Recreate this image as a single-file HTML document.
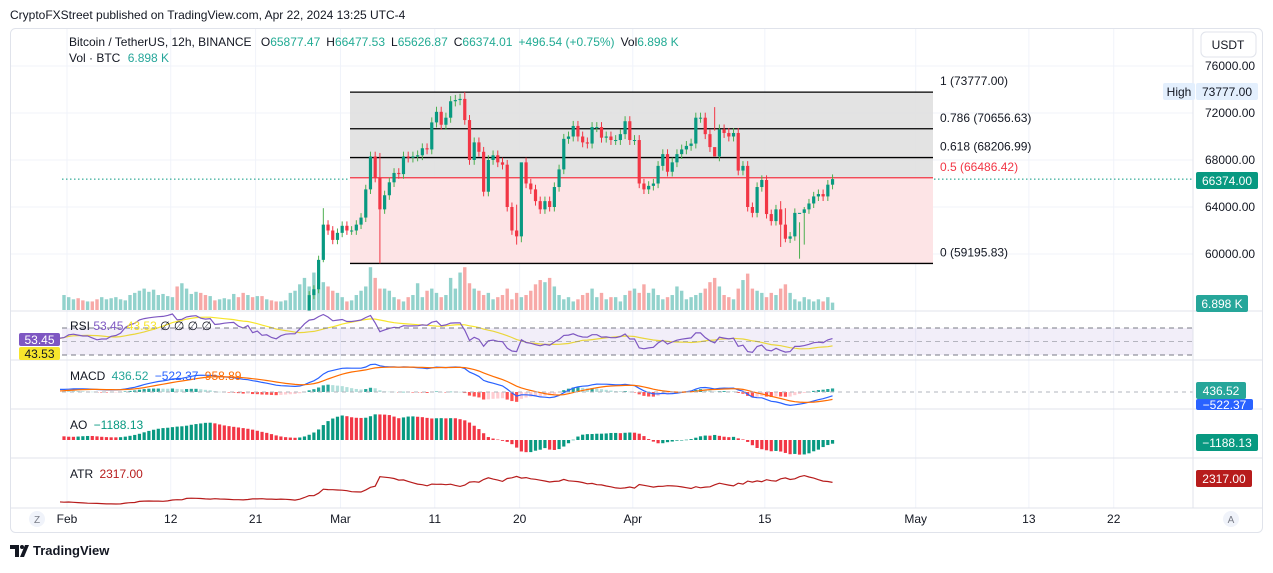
<!DOCTYPE html>
<html><head><meta charset="utf-8">
<style>
body{margin:0;background:#fff;width:1273px;height:568px;overflow:hidden;font-family:"Liberation Sans",sans-serif;}
svg text{font-family:"Liberation Sans",sans-serif;}
</style></head>
<body>
<svg id="c" width="1273" height="568" viewBox="0 0 1273 568" xmlns="http://www.w3.org/2000/svg">
<text x="10" y="19" font-size="12" fill="#131722">CryptoFXStreet published on TradingView.com, Apr 22, 2024 13:25 UTC-4</text>
<rect x="10.5" y="28.5" width="1252" height="504" rx="5" fill="#fff" stroke="#e0e3eb"/>
<g id="grid"></g>
<g id="fib"></g>
<g id="vol"></g>
<g id="candles"></g>
<g id="panes"></g>
<g id="axis"></g>
<text x="69" y="46" font-size="12" fill="#131722">Bitcoin / TetherUS, 12h, BINANCE <tspan dx="6">O</tspan><tspan fill="#22ab94">65877.47</tspan><tspan dx="6">H</tspan><tspan fill="#22ab94">66477.53</tspan><tspan dx="6">L</tspan><tspan fill="#22ab94">65626.87</tspan><tspan dx="6">C</tspan><tspan fill="#22ab94">66374.01</tspan><tspan dx="6" fill="#22ab94">+496.54 (+0.75%)</tspan><tspan dx="6">Vol</tspan><tspan fill="#22ab94">6.898 K</tspan></text>
<text x="69" y="62" font-size="12" fill="#131722">Vol · BTC <tspan dx="4" fill="#26a69a">6.898 K</tspan></text>
<rect x="1201" y="32" width="55" height="25" rx="5" fill="#fff" stroke="#e0e3eb"/>
<text x="1228" y="49" font-size="12" text-anchor="middle" fill="#131722">USDT</text>
<text x="70" y="330" font-size="12" fill="#131722">RSI <tspan fill="#7e57c2">53.45</tspan> <tspan fill="#f7e52c">43.53</tspan> <tspan>∅ ∅ ∅ ∅</tspan></text>
<text x="70" y="380" font-size="12" fill="#131722">MACD <tspan dx="3" fill="#26a69a">436.52</tspan> <tspan dx="3" fill="#2962ff">−522.37</tspan> <tspan dx="3" fill="#ff6d00">958.89</tspan></text>
<text x="70" y="429" font-size="12" fill="#131722">AO <tspan dx="3" fill="#089981">−1188.13</tspan></text>
<text x="70" y="478" font-size="12" fill="#131722">ATR <tspan dx="3" fill="#b71c1c">2317.00</tspan></text>
<g><path d="M10 545h9v12h-4v-8h-5z M20 557l5-12h4l-5 12z" fill="#131722"/><circle cx="22" cy="547" r="2" fill="#131722"/><text x="33" y="555" font-size="13" font-weight="bold" fill="#131722">TradingView</text></g>
</svg>
<script>
const preCloses=[43.0,42.8,42.8,42.9,42.5,41.7,42.3,42.5,43.1,43.2,42.8,42.7,42.0,41.3,41.0,41.6,41.7,41.6,41.6,41.6,40.5,39.5,39.0,39.8,40.0,40.0,39.8,39.9,41.2,41.8,42.0,42.1,42.3,42.0,42.8,43.3,43.5,43.0,42.5,42.5];
const closes=[42.6,43.1,43.2,43.1,43.0,43.0,42.8,42.6,42.7,42.7,43.0,43.1,43.4,44.3,44.9,45.3,46.5,47.1,47.5,47.8,48.1,48.3,48.9,50.0,49.4,49.7,51.2,51.8,52.2,51.9,51.8,52.1,51.4,51.6,51.9,52.1,52.2,51.8,51.6,52.3,51.4,51.8,51.2,51.3,50.9,50.7,51.3,51.6,51.7,51.7,52.8,54.5,56.5,57.0,59.5,62.5,62.0,61.2,
61.8,62.4,62.0,62.0,62.5,63.1,65.5,68.3,66.5,63.8,65.0,66.1,66.9,66.8,68.3,68.2,68.3,68.4,69.0,68.9,71.2,72.1,71.0,71.6,73.0,73.1,73.2,71.4,68.0,69.5,68.7,65.3,68.0,68.4,67.8,67.6,64.0,62.0,61.5,67.8,66.0,65.5,64.5,63.8,64.5,64.0,65.7,67.2,69.8,70.0,70.9,70.0,69.5,69.4,70.8,70.8,69.9,70.0,69.7,69.7,70.2,71.3,
69.7,69.7,66.0,65.5,65.8,66.0,67.5,68.5,67.0,67.8,68.5,68.9,69.2,69.4,71.6,71.6,70.2,69.1,68.3,70.6,70.3,70.0,70.3,67.1,67.5,64.0,63.5,65.7,66.3,63.4,62.8,63.8,62.5,61.3,61.5,63.5,63.5,63.8,64.3,64.9,65.1,64.9,65.9,66.374];
const wickOverrides=[[55,63.9,59.3],[67,68.6,59.2],[85,73.78,71.0],[96,64.2,60.8],[97,62.0,61.0],[138,72.5,70.5],[152,64.5,60.6],[153,63.9,61.0],[156,62.7,59.6],[157,64.0,60.8]];
const volumes=[14,12,10,11,9,8,8,10,12,10,11,12,10,9,14,16,18,20,17,19,14,15,13,12,22,25,20,15,17,16,14,13,9,10,11,10,15,12,16,14,12,13,13,10,9,8,8,9,16,18,24,30,22,35,20,26,22,18,
16,12,8,9,14,18,22,40,30,20,20,18,12,10,8,12,14,25,12,18,20,16,12,14,30,20,35,40,25,20,18,14,16,10,12,14,20,10,16,12,14,18,24,28,26,30,22,14,10,12,8,10,14,16,20,12,16,10,12,12,8,14,
18,20,16,24,16,20,14,10,12,14,22,18,10,12,14,16,20,26,30,22,14,12,10,20,28,34,20,18,16,12,16,14,20,24,16,10,8,12,10,8,10,8,12,6.9];
const priceTicks=[76000,72000,68000,64000,60000];
const fibLevels=[1,0.786,0.618,0.5,0];
const fibHigh=73777, fibLow=59195.83;
const timeLabels=["Feb","12","21","Mar","11","20","Apr","15","May","13","22"];
const timeDays=[0,11,20,29,39,48,60,74,90,102,111];

const NS="http://www.w3.org/2000/svg";
function mk(t,a,p){const e=document.createElementNS(NS,t);for(const k in a)e.setAttribute(k,a[k]);p.appendChild(e);return e;}
const X=i=>64+i*4.715;
const XD=d=>67+d*9.43;
const PY=p=>66+(76000-p)*0.01175;
const P=preCloses.length;
const ALL=preCloses.concat(closes).map(v=>v*1000);
const NA=ALL.length;
const OA=ALL.map((v,i)=>i==0?v:ALL[i-1]);
const HA=ALL.map((v,i)=>Math.max(v,OA[i])*1.006), LA=ALL.map((v,i)=>Math.min(v,OA[i])*0.994);
wickOverrides.forEach(w=>{const k=w[0]+P;if(k<NA){HA[k]=w[1]*1000;LA[k]=w[2]*1000;}});
const N=closes.length;
const C=ALL.slice(P),O=OA.slice(P),H=HA.slice(P),L=LA.slice(P);
const XA=k=>X(k-P);

const grid=document.getElementById('grid');
timeDays.forEach(d=>{const l=mk('line',{x1:XD(d),x2:XD(d),y1:29,y2:508,stroke:'#f0f3fa'},grid);});
priceTicks.forEach(p=>{const l=mk('line',{x1:11,x2:1193,y1:PY(p),y2:PY(p),stroke:'#f0f3fa'},grid);});

const fib=document.getElementById('fib');
const fx1=350,fx2=933;
const fy=l=>PY(fibLow+(fibHigh-fibLow)*l);
mk('rect',{x:fx1,y:fy(1),width:fx2-fx1,height:fy(0.5)-fy(1),fill:'#e0e0e0',opacity:0.9},fib);
mk('rect',{x:fx1,y:fy(0.5),width:fx2-fx1,height:fy(0)-fy(0.5),fill:'#fde4e6'},fib);
fibLevels.forEach(l=>{const red=l==0.5;const y=fy(l);
 const ln=mk('line',{x1:fx1,x2:fx2,y1:y,y2:y,stroke:red?'#f23645':'#000','stroke-width':1.3},fib);
 
 const t=mk('text',{x:940,y:y-7,'font-size':12,fill:red?'#f23645':'#131722'},fib);
 t.textContent=l+' ('+(fibLow+(fibHigh-fibLow)*l).toFixed(2)+')';
 });

const cp=mk('line',{x1:62,x2:1193,y1:PY(C[N-1]),y2:PY(C[N-1]),stroke:'#089981','stroke-dasharray':'1.5 2.5'},grid);


const defs=mk('defs',{},document.getElementById('c'));
const cl=mk('clipPath',{id:'pc'},defs);mk('rect',{x:11,y:29,width:1182,height:282},cl);
const cl2=mk('clipPath',{id:'ic'},defs);mk('rect',{x:60,y:311,width:1133,height:197},cl2);
const vg=document.getElementById('vol');vg.setAttribute('clip-path','url(#pc)');
volumes.forEach((v,i)=>{const up=C[i]>=O[i];const h=v*1.07;
 const r=mk('rect',{x:X(i)-1.7,y:310-h,width:3.4,height:h,fill:up?'rgba(38,166,154,0.5)':'rgba(239,83,80,0.5)'},vg);
 });
const cg=document.getElementById('candles');cg.setAttribute('clip-path','url(#pc)');
for(let i=0;i<N;i++){const up=C[i]>=O[i];const col=up?'#089981':'#f23645';
 const w=mk('line',{x1:X(i),x2:X(i),y1:PY(H[i]),y2:PY(L[i]),stroke:up?'#4caf50':col,'stroke-width':1},cg);
 
 const t=PY(Math.max(C[i],O[i])),b=PY(Math.min(C[i],O[i]));
 const r=mk('rect',{x:X(i)-1.6,y:t,width:3.2,height:Math.max(1,b-t),fill:col},cg);
 }

function ema(a,n){const k=2/(n+1);const o=[];a.forEach((v,i)=>o.push(i==0?v:v*k+o[i-1]*(1-k)));return o;}
function sma(a,n){return a.map((v,i)=>{if(i<n-1)return null;let s=0;for(let j=i-n+1;j<=i;j++)s+=a[j];return s/n;});}
const rsi=[null];let ag=0,al=0;
for(let i=1;i<NA;i++){const d=ALL[i]-ALL[i-1];const g=Math.max(d,0),l=Math.max(-d,0);
 if(i<=14){ag+=g/14;al+=l/14;}else{ag=(ag*13+g)/14;al=(al*13+l)/14;}
 rsi[i]=i>=14?(al==0?100:100-100/(1+ag/al)):null;}
const rsiMa=sma(rsi.map(v=>v==null?50:v),14);
const RY=v=>341.5-(v-50)*0.675;
const pg=document.getElementById('panes');
const ig=mk('g',{'clip-path':'url(#ic)'},pg);
const band=mk('rect',{x:62,y:RY(70),width:1131,height:RY(30)-RY(70),fill:'#7e57c2','fill-opacity':0.1},pg);

[70,50,30].forEach(v=>{const l=mk('line',{x1:62,x2:1193,y1:RY(v),y2:RY(v),stroke:'#787b86','stroke-dasharray':'5 4','stroke-opacity':v==50?0.5:1},pg);});
function path(arr,yf,col,name){let d='';for(let k=P-1;k<arr.length;k++){if(arr[k]==null)continue;d+=(d?'L':'M')+XA(k).toFixed(1)+' '+yf(arr[k]).toFixed(1);}
 const p=mk('path',{d:d,fill:'none',stroke:col,'stroke-width':1.2},ig);return p;}
path(rsiMa,RY,'#f7e52c','rsi-ma-line');
path(rsi,RY,'#7e57c2','rsi-line');
const e12=ema(ALL,12),e26=ema(ALL,26);const macd=ALL.map((v,i)=>e12[i]-e26[i]);const sig=ema(macd,9);
const MY=v=>392-v*0.0075;
const z=mk('line',{x1:62,x2:1193,y1:MY(0),y2:MY(0),stroke:'#b2b5be','stroke-dasharray':'4 4'},pg);
for(let k=P;k<NA;k++){const h=macd[k]-sig[k],hp=macd[k-1]-sig[k-1];
 const col=h>=0?(h>=hp?'#26a69a':'#b2dfdb'):(h<hp?'#ff5252':'#ffcdd2');
 const y1=MY(Math.max(h,0)),y2=MY(Math.min(h,0));
 const r=mk('rect',{x:XA(k)-1.6,y:y1,width:3.2,height:Math.max(0.5,y2-y1),fill:col},ig);}
path(macd,MY,'#2962ff','macd-line');
path(sig,MY,'#ff6d00','macd-signal-line');
const mid=ALL.map((v,i)=>(HA[i]+LA[i])/2);const s5=sma(mid,5),s34=sma(mid,34);
const ao=mid.map((v,i)=>s34[i]==null?null:s5[i]-s34[i]);
const AY=v=>440-v*0.003;
for(let k=P;k<NA;k++){if(ao[k]==null)continue;const col=(ao[k-1]==null||ao[k]>=ao[k-1])?'#089981':'#f23645';
 const y1=AY(Math.max(ao[k],0)),y2=AY(Math.min(ao[k],0));
 const r=mk('rect',{x:XA(k)-1.6,y:y1,width:3.2,height:Math.max(0.5,y2-y1),fill:col},ig);}
const tr=ALL.map((v,i)=>i==0?HA[i]-LA[i]:Math.max(HA[i]-LA[i],Math.abs(HA[i]-ALL[i-1]),Math.abs(LA[i]-ALL[i-1])));
const atr=[];tr.forEach((v,i)=>atr.push(i==0?v:(atr[i-1]*13+v)/14));
const TY=v=>Math.min(506,517-v*0.0174);
path(atr,TY,'#b71c1c','atr-line');

[311,360,409,458,508].forEach(y=>{const l=mk('line',{x1:11,x2:1262,y1:y,y2:y,stroke:'#e0e3eb'},pg);});
const ax=document.getElementById('axis');
const vl=mk('line',{x1:1193,x2:1193,y1:29,y2:508,stroke:'#e0e3eb'},ax);
priceTicks.forEach(p=>{const t=mk('text',{x:1205,y:PY(p)+4,'font-size':12,fill:'#131722'},ax);t.textContent=p+'.00';});
timeLabels.forEach((s,k)=>{const t=mk('text',{x:XD(timeDays[k]),y:523,'font-size':12,fill:'#131722','text-anchor':'middle'},ax);t.textContent=s;});
function tag(x,y,w,h,bg,fg,txt,name){const g=mk('g',{},ax);
 mk('rect',{x:x,y:y,width:w,height:h,rx:2,fill:bg},g);const t=mk('text',{x:x+w/2,y:y+h/2+4.5,'font-size':12,fill:fg,'text-anchor':'middle'},g);t.textContent=txt;}
tag(1163,83,32,17,'#e3effd','#131722','High','high-tag');
tag(1196,83,62,17,'#e3effd','#131722','73777.00','high-price-tag');
tag(1196,172,62,17,'#089981','#fff',C[N-1].toFixed(2),'last-price-tag');
tag(1196,295,52,17,'#26a69a','#fff','6.898 K','volume-tag');
tag(19,333,41,13,'#7e57c2','#fff','53.45','rsi-tag');
tag(19,347,41,13,'#f7e52c','#131722','43.53','rsi-ma-tag');
tag(1196,382,50,17,'#26a69a','#fff','436.52','macd-hist-tag');
tag(1196,399,57,11,'#2962ff','#fff','−522.37','macd-tag');
tag(1196,434,62,17,'#089981','#fff','−1188.13','ao-tag');
tag(1196,470,56,17,'#b71c1c','#fff','2317.00','atr-tag');
[[37,'Z'],[1231,'A']].forEach(a=>{const g=mk('g',{},ax);
 mk('circle',{cx:a[0],cy:519,r:8,fill:'#f0f3fa'},g);const t=mk('text',{x:a[0],y:523,'font-size':10,fill:'#787b86','text-anchor':'middle'},g);t.textContent=a[1];});
</script>
</body></html>
